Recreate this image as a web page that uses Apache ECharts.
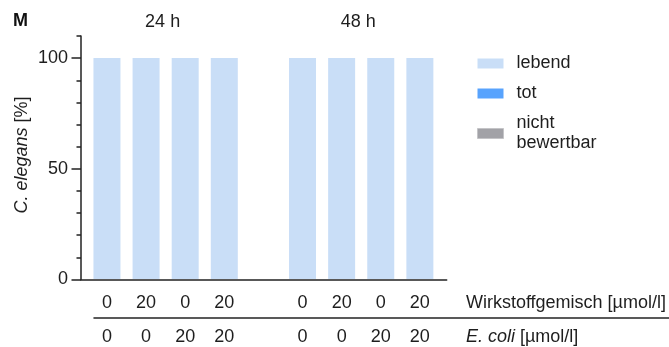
<!DOCTYPE html>
<html>
<head>
<meta charset="utf-8">
<script src="https://cdn.jsdelivr.net/npm/echarts@6/dist/echarts.min.js"></script>
<style>
  html, body { margin: 0; padding: 0; background: #fff; }
  #chart { width: 669px; height: 347px; }
</style>
</head>
<body>
<div id="chart"></div>
<script>
// Survival of C. elegans after 24 h and 48 h (one empty slot separates the groups)
const panelLabel = 'M';
const groupLabels = ['24 h', '48 h'];
const wirkstoff = ['0', '20', '0', '20', '', '0', '20', '0', '20'];
const ecoli = ['0', '0', '20', '20', '', '0', '0', '20', '20'];
const lebend = [100, 100, 100, 100, null, 100, 100, 100, 100];
const tot = [0, 0, 0, 0, null, 0, 0, 0, 0];
const nichtBewertbar = [0, 0, 0, 0, null, 0, 0, 0, 0];
const yLabelValues = [0, 50, 100];

const FONT = "'Liberation Sans', Arial, sans-serif";
const FS = 18;
const INK = '#1e1e1e';
const AXIS = '#222';

const chart = echarts.init(document.getElementById('chart'), null, { renderer: 'canvas' });

const option = {
  animation: false,
  textStyle: { fontFamily: FONT, color: INK },
  grid: [
    // frame grid: carries the axis lines and y ticks
    { left: 81, right: 222.3, top: 36, bottom: 67.5 },
    // data grid: category bands for the bars
    { left: 87.4, right: 228.8, top: 36, bottom: 67.5 }
  ],
  xAxis: [
    {
      gridIndex: 0, type: 'value', min: 0, max: 1,
      axisLine: { show: true, lineStyle: { color: AXIS, width: 1.5 } },
      axisTick: { show: false }, axisLabel: { show: false }, splitLine: { show: false }
    },
    {
      gridIndex: 1, type: 'category', data: wirkstoff, position: 'bottom',
      axisLine: { show: false }, axisTick: { show: false },
      axisLabel: { interval: 0, margin: 14, fontSize: FS, lineHeight: 20, color: INK, fontFamily: FONT },
      name: 'Wirkstoffgemisch [µmol/l]', nameLocation: 'end', nameGap: 26.5,
      nameTextStyle: { fontSize: FS, lineHeight: 20, color: INK, fontFamily: FONT, align: 'left', verticalAlign: 'top', padding: [14, 0, 0, 0] }
    },
    {
      gridIndex: 1, type: 'category', data: ecoli, position: 'bottom', offset: 39,
      axisLine: { show: false }, axisTick: { show: false },
      axisLabel: { interval: 0, margin: 9, fontSize: FS, lineHeight: 20, color: INK, fontFamily: FONT },
      name: '{i|E. coli} [µmol/l]', nameLocation: 'end', nameGap: 26.5,
      nameTextStyle: {
        fontSize: FS, lineHeight: 20, color: INK, fontFamily: FONT, align: 'left', verticalAlign: 'top', padding: [9, 0, 0, 0],
        rich: { i: { fontStyle: 'italic', fontSize: FS, lineHeight: 20, color: INK, fontFamily: FONT } }
      }
    }
  ],
  yAxis: [
    {
      // minor ticks every 10 %
      gridIndex: 0, type: 'value', position: 'left', min: 0, max: 110, interval: 10,
      axisLine: { show: true, lineStyle: { color: AXIS, width: 1.5 } },
      axisTick: { show: true, length: 4.5, lineStyle: { color: AXIS, width: 1.5 } },
      axisLabel: { show: false }, splitLine: { show: false }
    },
    {
      // major ticks with labels
      gridIndex: 0, type: 'value', position: 'left', offset: 0, min: 0, max: 110, interval: 10,
      axisLine: { show: false },
      axisTick: { show: true, length: 9.5, customValues: yLabelValues, lineStyle: { color: AXIS, width: 1.5 } },
      axisLabel: { show: true, customValues: yLabelValues, margin: 13, fontSize: FS, color: INK, fontFamily: FONT },
      splitLine: { show: false }
    },
    {
      gridIndex: 1, type: 'value', min: 0, max: 110, show: false
    }
  ],
  legend: {
    orient: 'vertical', left: 477, top: 53.5, padding: 0,
    itemWidth: 26, itemHeight: 10, itemGap: 10, icon: 'rect',
    selectedMode: false,
    textStyle: { fontSize: FS, lineHeight: 20, color: INK, fontFamily: FONT, padding: [0, 0, 0, 8] },
    data: [
      'lebend',
      'tot',
      { name: 'nicht\nbewertbar', itemStyle: { color: '#a2a2a7', borderColor: '#c4c4c7', borderWidth: 1 } }
    ]
  },
  series: [
    {
      name: 'lebend', type: 'bar', stack: 'all', xAxisIndex: 1, yAxisIndex: 2,
      barWidth: 27, data: lebend, itemStyle: { color: '#c9def7' }
    },
    {
      name: 'tot', type: 'bar', stack: 'all', xAxisIndex: 1, yAxisIndex: 2,
      barWidth: 27, data: tot, itemStyle: { color: '#58a3fd' }
    },
    {
      name: 'nicht\nbewertbar', type: 'bar', stack: 'all', xAxisIndex: 1, yAxisIndex: 2,
      barWidth: 27, data: nichtBewertbar, itemStyle: { color: '#a2a2a7' }
    }
  ]
};

chart.setOption(option);

// group headings, separator line, panel letter and y title
const px = (i) => chart.convertToPixel({ xAxisIndex: 1 }, i);
const yAt = (v) => chart.convertToPixel({ yAxisIndex: 2 }, v);
const baseY = yAt(0);
const head24 = (px(1) + px(2)) / 2 - 3;
const head48 = (px(6) + px(7)) / 2 - 3;
const firstBarLeft = px(0) - 13.5;

chart.setOption({
  graphic: [
    {
      type: 'text', left: 13, top: 12,
      style: { text: panelLabel, font: 'bold 18px ' + FONT, fill: '#111' }
    },
    {
      type: 'text', x: head24, y: 22,
      style: { text: groupLabels[0], font: FS + 'px ' + FONT, fill: INK, align: 'center', verticalAlign: 'middle' }
    },
    {
      type: 'text', x: head48, y: 22,
      style: { text: groupLabels[1], font: FS + 'px ' + FONT, fill: INK, align: 'center', verticalAlign: 'middle' }
    },
    {
      type: 'line',
      shape: { x1: firstBarLeft, y1: baseY + 39, x2: 669, y2: baseY + 39 },
      style: { stroke: AXIS, lineWidth: 1.5 }
    },
    {
      type: 'text', x: 22, y: 155, rotation: Math.PI / 2,
      style: {
        text: '{i|C. elegans} [%]', font: FS + 'px ' + FONT, fill: INK,
        align: 'center', verticalAlign: 'middle',
        rich: { i: { fontStyle: 'italic', fontSize: FS, fontFamily: FONT, fill: INK } }
      }
    }
  ]
});
</script>
</body>
</html>
